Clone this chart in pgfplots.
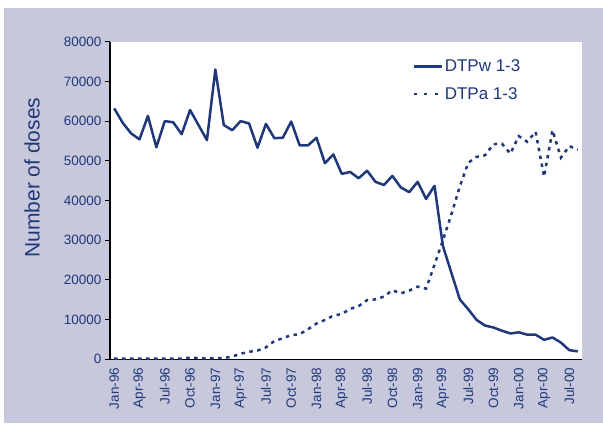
\documentclass[border=0pt]{standalone}
\usepackage{fontspec}
\setmainfont{Liberation Sans}
\usepackage{pgfplots}
\pgfplotsset{compat=1.18}
\definecolor{navy}{RGB}{31,56,122}
\definecolor{lav}{RGB}{200,200,221}
\begin{document}
\begin{tikzpicture}
\begin{axis}[
  set layers, clip=false,
  scale only axis, width=472pt, height=317.6pt,
  xmin=-0.5, xmax=55.5, ymin=0, ymax=80000,
  axis x line*=bottom, axis y line*=left,
  axis line style={black, line width=1.2pt, -},
  every tick/.style={black, line width=1pt},
  tick align=outside,
  major tick length=5pt, minor tick length=5pt,
  ytick={0,10000,...,80000},
  scaled y ticks=false,
  /pgf/number format/.cd, 1000 sep={}, assume math mode=true, /pgfplots/.cd,
  yticklabel style={font=\fontsize{13.5}{15}\selectfont, text=navy},
  xtick={0,3,...,54},
  xticklabels={Jan-96,Apr-96,Jul-96,Oct-96,Jan-97,Apr-97,Jul-97,Oct-97,Jan-98,Apr-98,Jul-98,Oct-98,Jan-99,Apr-99,Jul-99,Oct-99,Jan-00,Apr-00,Jul-00},
  x tick style={draw=none},
  minor xtick={-0.5,2.5,...,53.5},
  minor x tick style={black, line width=1pt},
  xticklabel style={font=\fontsize{13.5}{15}\selectfont, text=navy, rotate=90, anchor=east},
  ylabel={Number of doses},
  ylabel style={font=\fontsize{21}{24}\selectfont, text=navy, at={(axis description cs:-0.165,0.572)}, anchor=center},
  legend style={draw=none, fill=none, at={(0.64,0.95)}, anchor=north west,
    font=\fontsize{17}{19}\selectfont, text=navy, row sep=10pt, inner sep=0pt,
    /tikz/every even column/.append style={column sep=13pt}},
  legend cell align=left,
  legend image code/.code={\draw[#1] (0pt,0pt) -- (28pt,0pt);},
]
\begin{pgfonlayer}{axis background}
\fill[white] (axis description cs:-0.23305,-0.20686) rectangle (axis description cs:1.04449,1.13130);
\fill[lav] (axis description cs:-0.22458,-0.20057) rectangle (axis description cs:1.04449,1.10611);
\fill[white] (axis description cs:0,0) rectangle (axis description cs:1,1);
\end{pgfonlayer}
\addplot[navy, line width=2.5pt, line join=round] coordinates {
(0,63200)(1,59600)(2,56900)(3,55400)(4,61300)(5,53400)(6,60000)(7,59700)
(8,56700)(9,62800)(10,59000)(11,55200)(12,73000)(13,59000)(14,57700)(15,60000)
(16,59400)(17,53300)(18,59300)(19,55700)(20,55800)(21,59900)(22,53900)(23,53900)
(24,55800)(25,49400)(26,51600)(27,46700)(28,47200)(29,45600)(30,47500)(31,44700)
(32,43900)(33,46200)(34,43300)(35,42100)(36,44700)(37,40400)(38,43700)(39,28500)
(40,21800)(41,15100)(42,12600)(43,9900)(44,8500)(45,8000)(46,7200)(47,6500)
(48,6800)(49,6200)(50,6200)(51,4900)(52,5500)(53,4200)(54,2300)(55,2000)
};
\addlegendentry{DTPw 1-3}
\addplot[navy, line width=2.5pt, dash pattern=on 3.5pt off 4.5pt, forget plot] coordinates {
(0,150)(1,150)(2,150)(3,150)(4,150)(5,150)(6,150)(7,150)
(8,200)(9,400)(10,300)(11,200)(12,300)(13,300)(14,700)(15,1400)
(16,1900)(17,2200)(18,3000)(19,4600)(20,5300)(21,6100)(22,6300)(23,7600)
(24,9000)(25,9900)(26,11000)(27,11400)(28,12700)(29,13400)(30,14900)(31,15100)
(32,15800)(33,17400)(34,16600)(35,17300)(36,18300)(37,17800)(38,23800)(39,30000)
(40,36500)(41,43500)(42,49500)(43,51000)(44,51400)(45,54200)(46,54300)(47,51800)
(48,56200)(49,54800)(50,57300)(51,46000)(52,57700)(53,50800)(54,53700)(55,52800)
};
\addlegendimage{navy, line width=2.5pt, dash pattern=on 3pt off 7.5pt}
\addlegendentry{DTPa 1-3}
\end{axis}
\end{tikzpicture}
\end{document}
